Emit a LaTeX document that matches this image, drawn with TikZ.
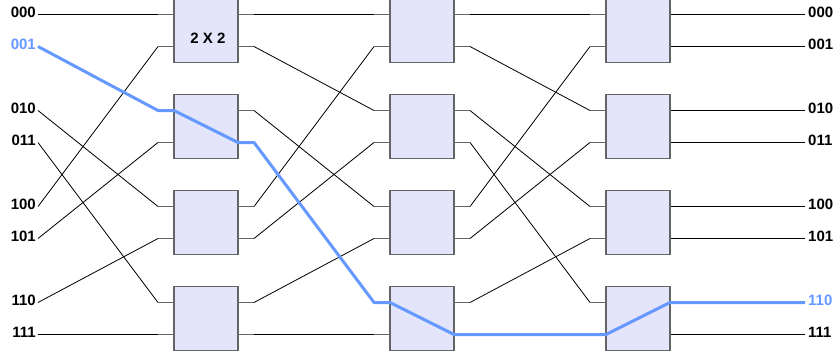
\documentclass[tikz,border=0pt]{standalone}
\usepackage{fontspec}
\setmainfont{Liberation Sans}
\usetikzlibrary{positioning, calc}
\definecolor{pathblue}{RGB}{102,153,255}
\definecolor{boxfill}{RGB}{228,228,250}
\definecolor{boxline}{RGB}{100,100,100}

\begin{document}
\begin{tikzpicture}[
    % GLOBAL CFG
    x=1pt, y=-1pt,
    font=\bfseries\fontsize{15}{17}\selectfont,
    % Styles
    switch/.style={% For 2x2 switch boxes
        rectangle,
        draw=boxline,
        line width=1.2pt,
        fill=boxfill,
        minimum width=64pt,
        minimum height=64pt,
        inner sep=0pt,
    },
    addr/.style={% For input and output addresses
        inner sep=0pt,
    },
    wire/.style={% Plain links
        black,
        line width=0.8pt,
    },
    stub/.style={% Short links at switch ports
        boxline,
        line width=1.2pt,
    },
    route/.style={% Highlighted route
        pathblue,
        line width=3pt,
        line join=round,
    },
    ]
    \useasboundingbox (0,0) rectangle (839,356);

    % Coordinates of ports, named i/is (left) and o/os (right)
    \foreach \s in {1,2,3} {
        \foreach \p in {0,...,7} {
            \pgfmathsetmacro\py{14.5+32*\p+32*int(\p/2)}
            \pgfmathsetmacro\xl{174+216*(\s-1)}
            \coordinate (i\s\p) at (\xl,\py);
            \coordinate (is\s\p) at (\xl-16,\py);
            \coordinate (o\s\p) at (\xl+64,\py);
            \coordinate (os\s\p) at (\xl+80,\py);
        }
    }

    % Draw addresses named a# (inputs) and b# (outputs)
    \foreach \p/\t/\c in {0/000/black,1/001/pathblue,2/010/black,3/011/black,
                          4/100/black,5/101/black,6/110/black,7/111/black} {
        \pgfmathsetmacro\py{14.5+32*\p+32*int(\p/2)}
        \coordinate (a\p) at (38,\py);
        \node[addr, text=\c, left=2pt of a\p, yshift=1.7pt] (la\p) {\t};
    }
    \foreach \p/\t/\c in {0/000/black,1/001/black,2/010/black,3/011/black,
                          4/100/black,5/101/black,6/110/pathblue,7/111/black} {
        \pgfmathsetmacro\py{14.5+32*\p+32*int(\p/2)}
        \coordinate (b\p) at (805,\py);
        \node[addr, text=\c, right=3pt of b\p, yshift=1.7pt] (lb\p) {\t};
    }

    % Inputs (perfect shuffle)
    \foreach \p in {0,...,7} {
        \pgfmathtruncatemacro\q{\p==7 ? 7 : mod(2*\p,7)}
        \draw[wire] (a\p) -- (is1\q);
        \draw[stub] (is1\q) -- (i1\q);
    }

    % Between stages (perfect shuffle)
    \foreach \s/\t in {1/2,2/3} {
        \foreach \p in {0,...,7} {
            \pgfmathtruncatemacro\q{\p==7 ? 7 : mod(2*\p,7)}
            \draw[stub] (o\s\p) -- (os\s\p);
            \draw[wire] (os\s\p) -- (is\t\q);
            \draw[stub] (is\t\q) -- (i\t\q);
        }
    }

    % Outputs
    \foreach \p in {0,...,7} {
        \draw[wire] (o3\p) -- (b\p);
    }

    % Draw switches named sw<stage><row>
    \foreach \s in {1,2,3} {
        \foreach \k in {0,...,3} {
            \node[switch] (sw\s\k) at ({206+216*(\s-1)},{30.5+96*\k}) {};
        }
    }
    \node (size) at ($(sw10)+(2,7.5)$) {2 X 2};

    % Route 001 -> 110
    \draw[route] (a1) -- (is12) -- (i12) -- (o13) -- (os13) -- (is26) -- (i26)
        -- (o27) -- (i37) -- (o36) -- (b6);

\end{tikzpicture}
\end{document}
